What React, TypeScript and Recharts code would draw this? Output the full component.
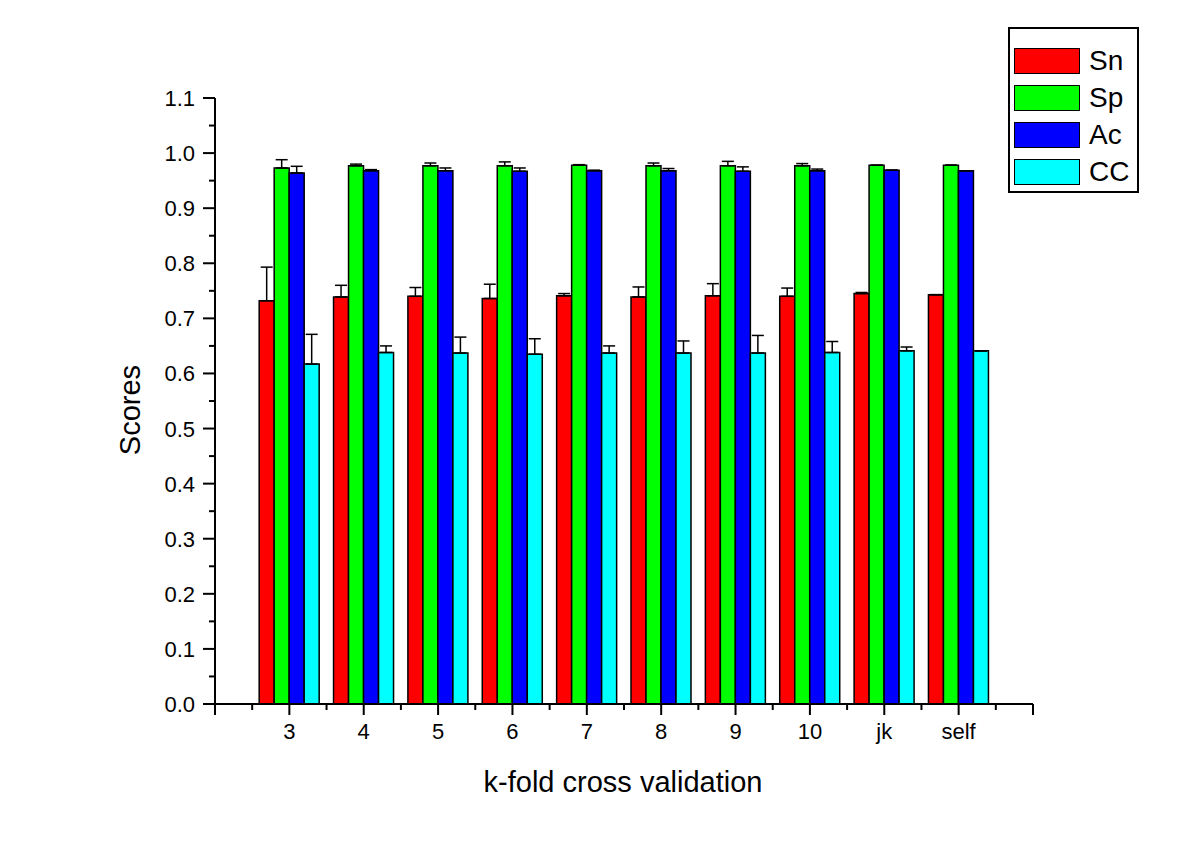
import React from 'react';
import { BarChart, Bar, XAxis, YAxis, ErrorBar, Legend } from 'recharts';

// k-fold groups, placed on a numeric axis (2..13) like the original Origin plot
const categories = ['3', '4', '5', '6', '7', '8', '9', '10', 'jk', 'self'];
const positions = [3, 4, 5, 6, 7, 8, 9, 10, 11, 12];

const sn = [0.732, 0.739, 0.740, 0.736, 0.741, 0.739, 0.741, 0.740, 0.745, 0.743];
const snErr = [0.061, 0.021, 0.016, 0.026, 0.004, 0.018, 0.022, 0.015, 0.002, 0];
const sp = [0.973, 0.977, 0.977, 0.977, 0.978, 0.977, 0.977, 0.977, 0.978, 0.978];
const spErr = [0.015, 0.003, 0.005, 0.007, 0.001, 0.005, 0.008, 0.004, 0, 0];
const ac = [0.964, 0.968, 0.968, 0.967, 0.968, 0.968, 0.967, 0.968, 0.969, 0.968];
const acErr = [0.012, 0.002, 0.005, 0.006, 0.001, 0.004, 0.008, 0.003, 0, 0];
const cc = [0.617, 0.638, 0.637, 0.635, 0.637, 0.637, 0.637, 0.638, 0.641, 0.641];
const ccErr = [0.054, 0.012, 0.029, 0.028, 0.013, 0.022, 0.032, 0.020, 0.007, 0];

const xTicks = [2, 3, 4, 5, 6, 7, 8, 9, 10, 11, 12, 13];
const yTicks = [0, 0.1, 0.2, 0.3, 0.4, 0.5, 0.6, 0.7, 0.8, 0.9, 1.0, 1.1];

const series = [
  { key: 'Sn', color: '#ff0000' },
  { key: 'Sp', color: '#00ff00' },
  { key: 'Ac', color: '#0000ff' },
  { key: 'CC', color: '#00ffff' },
];

const data = positions.map((p, i) => ({
  pos: p,
  Sn: sn[i],
  SnErr: [0, snErr[i]],
  Sp: sp[i],
  SpErr: [0, spErr[i]],
  Ac: ac[i],
  AcErr: [0, acErr[i]],
  CC: cc[i],
  CCErr: [0, ccErr[i]],
}));

const W = 1200;
const H = 843;
const LEFT = 215;
const RIGHT = 1033;
const TOP = 98;
const BOTTOM = 704;
const halfX = (RIGHT - LEFT) / 11 / 2;
const halfY = (BOTTOM - TOP) / 11 / 2;
const FONT = '"Liberation Sans", Arial, sans-serif';

const XTick = (props: any) => {
  const { x, y, payload } = props;
  const v = payload.value;
  const idx = positions.indexOf(v);
  return (
    <g>
      <line x1={x} x2={x} y1={y} y2={y + 11} stroke="#000" strokeWidth={2} />
      {v < 13 && (
        <line x1={x + halfX} x2={x + halfX} y1={y} y2={y + 6} stroke="#000" strokeWidth={2} />
      )}
      {idx >= 0 && (
        <text x={x} y={y + 35} textAnchor="middle" fontSize={22} fontFamily={FONT} fill="#000">
          {categories[idx]}
        </text>
      )}
    </g>
  );
};

const YTick = (props: any) => {
  const { x, y, payload } = props;
  const v = payload.value;
  return (
    <g>
      <line x1={x} x2={x - 12} y1={y} y2={y} stroke="#000" strokeWidth={2} />
      {v < 1.05 && (
        <line x1={x} x2={x - 6} y1={y - halfY} y2={y - halfY} stroke="#000" strokeWidth={2} />
      )}
      <text x={x - 20} y={y + 8} textAnchor="end" fontSize={22} fontFamily={FONT} fill="#000">
        {v.toFixed(1)}
      </text>
    </g>
  );
};

const LegendBox = () => (
  <div
    style={{
      width: 131,
      height: 166,
      border: '2px solid #000',
      boxSizing: 'border-box',
      background: '#fff',
      paddingTop: 13,
      fontFamily: FONT,
    }}
  >
    {series.map((s) => (
      <div key={s.key} style={{ display: 'flex', alignItems: 'center', height: 37 }}>
        <div
          style={{
            width: 66,
            height: 26,
            marginLeft: 4,
            background: s.color,
            border: '1.5px solid #000',
            boxSizing: 'border-box',
          }}
        />
        <span style={{ marginLeft: 9, fontSize: 28, lineHeight: '28px', color: '#000' }}>{s.key}</span>
      </div>
    ))}
  </div>
);

export default function App() {
  return (
    <div style={{ position: 'absolute', left: 0, top: 0, width: W, height: H, background: '#fff' }}>
      <BarChart
        width={W}
        height={H}
        data={data}
        margin={{ top: TOP, right: W - RIGHT, bottom: H - BOTTOM - 60, left: LEFT - 80 }}
        barGap={0}
        barSize={15}
      >
        <XAxis
          dataKey="pos"
          type="number"
          domain={[2, 13]}
          ticks={xTicks}
          interval={0}
          height={60}
          tickSize={0}
          tickMargin={0}
          tickLine={false}
          axisLine={{ stroke: '#000', strokeWidth: 2 }}
          tick={<XTick />}
        />
        <YAxis
          type="number"
          domain={[0, 1.1]}
          ticks={yTicks}
          interval={0}
          width={80}
          tickSize={0}
          tickMargin={0}
          tickLine={false}
          axisLine={{ stroke: '#000', strokeWidth: 2 }}
          tick={<YTick />}
        />
        <Legend
          layout="horizontal"
          verticalAlign="middle"
          align="center"
          content={() => <LegendBox />}
          wrapperStyle={{ position: 'absolute', left: 1008, top: 27, width: 131, height: 166 }}
        />
        {series.map((s) => (
          <Bar
            key={s.key}
            dataKey={s.key}
            fill={s.color}
            stroke="#000"
            strokeWidth={1.5}
            isAnimationActive={false}
          >
            <ErrorBar
              dataKey={`${s.key}Err`}
              direction="y"
              width={6}
              stroke="#000"
              strokeWidth={1.5}
              isAnimationActive={false}
            />
          </Bar>
        ))}
        <text
          x={623}
          y={792}
          textAnchor="middle"
          fontSize={29}
          fontFamily={FONT}
          fill="#000"
        >
          k-fold cross validation
        </text>
        <text
          x={140}
          y={410}
          transform="rotate(-90 140 410)"
          textAnchor="middle"
          fontSize={29}
          fontFamily={FONT}
          fill="#000"
        >
          Scores
        </text>
      </BarChart>
    </div>
  );
}
